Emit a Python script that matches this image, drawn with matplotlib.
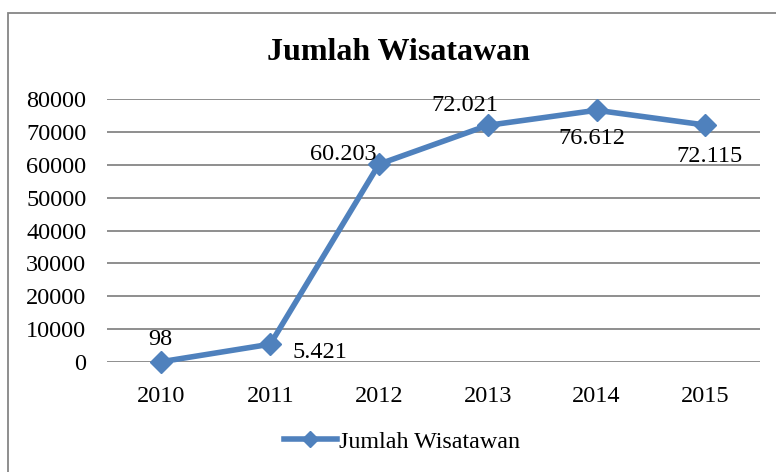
import matplotlib.pyplot as plt
from matplotlib.patches import Rectangle

tahun = ["2010", "2011", "2012", "2013", "2014", "2015"]
wisatawan = [98, 5421, 60203, 72021, 76612, 72115]
label_data = ["98", "5.421", "60.203", "72.021", "76.612", "72.115"]
# label offsets in pixels from each point
geser = [(-1, 22), (50, -8), (-36, 10), (-23, 20), (-5, -28), (4, -31)]

plt.rcParams['font.family'] = ['Liberation Serif', 'DejaVu Serif']

fig = plt.figure(figsize=(7.76, 4.72), dpi=100)
ax = fig.add_axes([0.138, 0.233, 0.841, 0.557])

x = range(len(tahun))
ax.plot(x, wisatawan, color='#4F81BD', linewidth=4, marker='D', markersize=11,
        label='Jumlah Wisatawan', zorder=3, clip_on=False)

for i, (v, t) in enumerate(zip(wisatawan, label_data)):
    ax.annotate(t, (i, v), xytext=geser[i], textcoords='offset pixels',
                ha='center', va='center', fontsize=17.5, zorder=4)

ax.set_xlim(-0.5, len(tahun) - 0.5)
ax.set_ylim(0, 80000)
ax.set_yticks(range(0, 80001, 10000))
ax.set_xticks(list(x))
ax.set_xticklabels(tahun)
ax.tick_params(length=0, labelsize=17.5)
ax.tick_params(axis='y', pad=15)
ax.tick_params(axis='x', pad=17)
ax.grid(axis='y', color='#868686', linewidth=1.3)
ax.set_axisbelow(True)
for s in ax.spines.values():
    s.set_visible(False)

fig.text(0.514, 0.888, 'Jumlah Wisatawan', ha='center', va='center',
         fontsize=23, fontweight='bold')

leg = fig.legend(loc='center', bbox_to_anchor=(0.518, 0.064), frameon=False,
                 fontsize=17.3, handlelength=2.2, handletextpad=0.1)
leg.legend_handles[0].set_markersize(8)

# outer chart border
fig.patches.append(Rectangle((8 / 776, -0.1), 1.2, 1.1 - 13 / 472,
                             transform=fig.transFigure, fill=False,
                             edgecolor='#868686', linewidth=1.3))

fig.savefig('out.png', dpi=100)
